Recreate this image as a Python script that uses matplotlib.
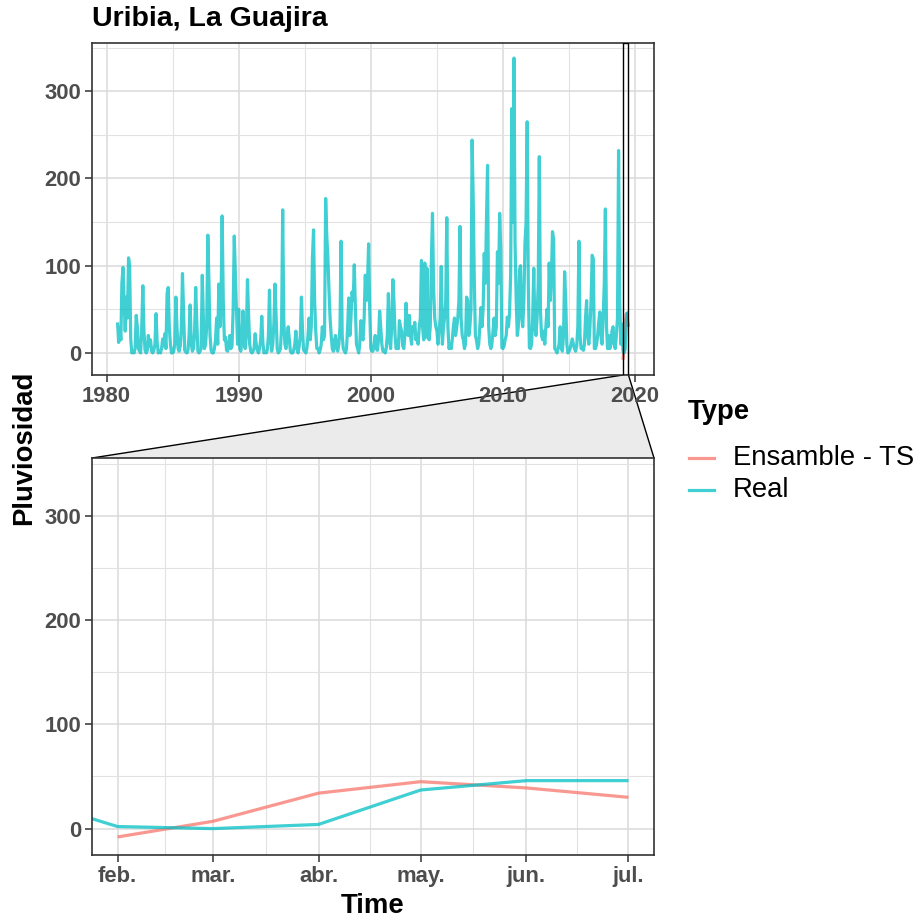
import matplotlib
matplotlib.use("Agg")
import matplotlib.pyplot as plt
import matplotlib.dates as mdates
from matplotlib.lines import Line2D
from matplotlib.patches import Polygon, Rectangle
from datetime import datetime
import pandas as pd

plt.rcParams['font.family'] = ['Liberation Sans', 'DejaVu Sans']

# Lluvia mensual observada en Uribia (nov. 1980 - jul. 2019)
real = [
    35, 12,                                               # 1980
    29, 15, 80, 98, 60, 25, 64, 40, 109, 100, 15, 0,      # 1981
    2, 0, 5, 43, 30, 5, 2, 0, 30, 77, 25, 3,              # 1982
    0, 3, 20, 8, 15, 2, 0, 3, 10, 45, 12, 0,              # 1983
    2, 0, 5, 16, 8, 22, 5, 68, 75, 30, 10, 0,             # 1984
    0, 2, 10, 64, 30, 5, 2, 8, 30, 91, 45, 3,             # 1985
    1, 0, 3, 20, 55, 10, 2, 5, 25, 75, 35, 2,             # 1986
    0, 2, 5, 89, 40, 5, 10, 30, 135, 83, 20, 3,           # 1987
    0, 0, 5, 15, 40, 10, 79, 30, 60, 157, 60, 15,         # 1988
    18, 3, 2, 10, 20, 5, 8, 50, 134, 90, 50, 10,          # 1989
    50, 5, 2, 15, 48, 10, 5, 20, 84, 45, 10, 2,           # 1990
    0, 2, 5, 22, 10, 3, 0, 5, 15, 42, 12, 0,              # 1991
    2, 0, 3, 20, 72, 15, 2, 10, 35, 79, 40, 5,            # 1992
    0, 2, 5, 30, 164, 37, 10, 5, 20, 30, 15, 2,           # 1993
    0, 0, 3, 10, 25, 5, 0, 8, 20, 64, 25, 3,              # 1994
    2, 0, 5, 20, 40, 15, 30, 108, 141, 60, 25, 5,         # 1995
    5, 0, 3, 10, 30, 15, 20, 177, 134, 110, 72, 40,       # 1996
    20, 5, 2, 14, 20, 5, 2, 10, 30, 128, 20, 5,           # 1997
    2, 0, 5, 30, 63, 20, 40, 70, 60, 101, 50, 10,         # 1998
    5, 0, 10, 37, 20, 15, 40, 89, 60, 80, 125, 50,        # 1999
    5, 2, 2, 10, 20, 5, 3, 15, 48, 30, 10, 2,             # 2000
    3, 0, 5, 20, 68, 15, 5, 30, 84, 60, 20, 5,            # 2001
    10, 5, 37, 30, 25, 8, 5, 20, 57, 30, 20, 43,          # 2002
    20, 10, 30, 25, 35, 15, 20, 10, 30, 40, 106, 30,      # 2003
    15, 103, 18, 97, 20, 15, 30, 106, 160, 75, 40, 30,    # 2004
    25, 10, 25, 40, 99, 10, 30, 40, 60, 155, 30, 5,       # 2005
    10, 5, 15, 30, 40, 20, 29, 40, 60, 145, 40, 20,       # 2006
    15, 5, 10, 64, 60, 20, 30, 50, 244, 176, 80, 20,      # 2007
    14, 5, 10, 30, 52, 30, 50, 114, 80, 150, 215, 30,     # 2008
    10, 5, 10, 25, 40, 20, 30, 116, 80, 160, 120, 6,      # 2009
    5, 8, 15, 20, 41, 30, 45, 90, 280, 150, 338, 126,     # 2010
    60, 20, 30, 95, 100, 40, 30, 60, 126, 150, 265, 80,   # 2011
    6, 5, 10, 40, 97, 30, 20, 40, 80, 225, 50, 20,        # 2012
    15, 25, 10, 30, 50, 30, 103, 60, 90, 139, 130, 5,     # 2013
    3, 0, 5, 10, 30, 5, 2, 20, 93, 60, 10, 0,             # 2014
    2, 5, 10, 16, 10, 5, 2, 8, 30, 128, 20, 5,            # 2015
    5, 3, 10, 41, 60, 20, 10, 30, 60, 112, 108, 5,        # 2016
    5, 10, 20, 35, 47, 20, 10, 40, 80, 165, 30, 5,        # 2017
    20, 5, 10, 25, 30, 10, 5, 20, 40, 232, 60, 10,        # 2018
    33, 2, 0, 4, 37, 46, 46,                              # 2019
]
fechas_real = pd.date_range('1980-11-01', periods=len(real), freq='MS')

# Pronostico del ensamble (feb. - jul. 2019)
ensamble = [-8, 7, 34, 45, 39, 30]
fechas_ens = pd.date_range('2019-02-01', periods=len(ensamble), freq='MS')

meses_zoom = ['feb.', 'mar.', 'abr.', 'may.', 'jun.', 'jul.']
anios = [1980, 1990, 2000, 2010, 2020]
anios_menores = [1985, 1995, 2005, 2015]
niveles = [0, 100, 200, 300]
niveles_menores = [50, 150, 250, 350]

col_ens = '#F8766D'
col_real = '#00BFC4'
gris_txt = '#4D4D4D'

W, H = 920, 919
fig = plt.figure(figsize=(W / 100, H / 100), dpi=100)


def fx(px):
    return px / W


def fy(py):
    return 1 - py / H


def estilo(ax):
    for s in ax.spines.values():
        s.set_color('#333333')
        s.set_linewidth(1.2)
    ax.tick_params(which='major', length=5, width=1.1, color='#333333',
                   labelcolor=gris_txt, labelsize=15.8, pad=3)
    ax.tick_params(which='minor', length=0)
    for lab in ax.get_xticklabels() + ax.get_yticklabels():
        lab.set_fontweight('bold')
    ax.grid(which='major', color='#DADADA', linewidth=1.1)
    ax.grid(which='minor', color='#E2E2E2', linewidth=0.8)
    ax.set_axisbelow(True)


ax_top = fig.add_axes([fx(92), fy(375), (654 - 92) / W, (375 - 43) / H])
ax_zoom = fig.add_axes([fx(92), fy(855), (654 - 92) / W, (855 - 458) / H])

xr = mdates.date2num(fechas_real)
xe = mdates.date2num(fechas_ens)

# limites con 5% de expansion
x0, x1 = xr.min(), max(xr.max(), xe.max())
xpad = 0.05 * (x1 - x0)
ylo = min(min(real), min(ensamble))
yhi = max(max(real), max(ensamble))
ypad = 0.05 * (yhi - ylo)
z0, z1 = xe.min(), xe.max()
zpad = 0.05 * (z1 - z0)

for ax in (ax_top, ax_zoom):
    ax.plot(fechas_ens, ensamble, color=col_ens, alpha=0.75, lw=2.3,
            solid_joinstyle='round', solid_capstyle='butt')
    ax.plot(fechas_real, real, color=col_real, alpha=0.75, lw=2.3,
            solid_joinstyle='round', solid_capstyle='butt')
    ax.set_ylim(ylo - ypad, yhi + ypad)
    ax.set_yticks(niveles)
    ax.set_yticks(niveles_menores, minor=True)

ax_top.set_xlim(x0 - xpad, x1 + xpad)
ax_top.set_xticks([datetime(a, 1, 1) for a in anios])
ax_top.set_xticklabels([str(a) for a in anios])
ax_top.set_xticks([datetime(a, 1, 1) for a in anios_menores], minor=True)

ax_zoom.set_xlim(z0 - zpad, z1 + zpad)
ax_zoom.set_xticks(xe)
ax_zoom.set_xticklabels(meses_zoom)
ax_zoom.set_xticks([(a + b) / 2 for a, b in zip(xe[:-1], xe[1:])], minor=True)

estilo(ax_top)
estilo(ax_zoom)

# zona ampliada marcada en el panel principal
ax_top.add_patch(Rectangle((z0, ylo - ypad), z1 - z0, yhi - ylo + 2 * ypad,
                           facecolor='none', edgecolor='black', lw=1.0, zorder=5))

# trapecio que une la zona con el panel ampliado
fig.canvas.draw()
inv = fig.transFigure.inverted()
pa = inv.transform(ax_top.transData.transform((z0, ylo - ypad)))
pb = inv.transform(ax_top.transData.transform((z1, ylo - ypad)))
pos = ax_zoom.get_position()
esq_izq = (pos.x0, pos.y1)
esq_der = (pos.x1, pos.y1)
fig.patches.append(Polygon([pa, pb, esq_der, esq_izq], closed=True,
                           facecolor='#EBEBEB', edgecolor='none',
                           transform=fig.transFigure, zorder=-1))
for p, q in ((pa, esq_izq), (pb, esq_der)):
    fig.lines.append(Line2D([p[0], q[0]], [p[1], q[1]], color='black', lw=1.0,
                            transform=fig.transFigure, zorder=-0.5))

# titulos
fig.text(fx(92), fy(19), 'Uribia, La Guajira', fontsize=20.5, fontweight='bold',
         ha='left', va='center')
fig.text(fx(24), fy(448), 'Pluviosidad', fontsize=19.8, fontweight='bold',
         rotation=90, ha='center', va='center')
fig.text(fx(373), fy(906), 'Time', fontsize=19.8, fontweight='bold',
         ha='center', va='center')

# leyenda
fig.text(fx(688), fy(412), 'Type', fontsize=19.8, fontweight='bold',
         ha='left', va='center')
for yk, col, lab in ((458, col_ens, 'Ensamble - TS'), (490, col_real, 'Real')):
    fig.lines.append(Line2D([fx(689), fx(714)], [fy(yk), fy(yk)], color=col,
                            alpha=0.75, lw=2.3, transform=fig.transFigure))
    fig.text(fx(733), fy(yk), lab, fontsize=19.8, ha='left', va='center')

fig.savefig('out.png', dpi=100, facecolor='white')
